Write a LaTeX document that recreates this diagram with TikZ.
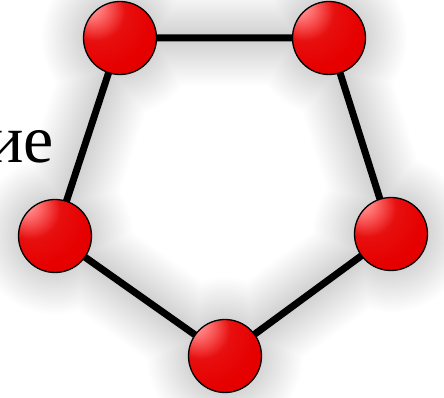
\documentclass[tikz,border=0pt]{standalone}
\usepackage{fontspec}
\setmainfont{Liberation Serif}
\definecolor{ballred}{RGB}{230,0,0}
\pgfdeclareradialshading{glossyball}{\pgfpoint{-22bp}{24bp}}{%
  color(0bp)=(red!30!white);
  color(8bp)=(red!55!white);
  color(20bp)=(ballred!94!white);
  color(34bp)=(ballred);
  color(60bp)=(ballred!97!black);
  color(80bp)=(ballred!94!black)}
\tikzset{
  ball/.style={circle, minimum size=73pt, inner sep=0pt, draw=black, line width=1.3pt, shading=glossyball},
  link/.style={line width=7pt, black}
}
\begin{document}
\begin{tikzpicture}[x=1pt,y=1pt]
\useasboundingbox (0,0) rectangle (444,398);
\clip (0,0) rectangle (444,398);
\fill[white] (0,0) rectangle (444,398);
\coordinate (pa) at (120,360);
\coordinate (pb) at (329,360);
\coordinate (pc) at (391,164);
\coordinate (pd) at (225,42);
\coordinate (pe) at (55,162);
% soft shadow
\foreach \k in {1,...,22}{
  \begin{scope}[transparency group, opacity=0.009, shift={(3,-9)}]
    \draw[line width={7+4*\k}, line join=round, black] (pa) -- (pb) -- (pc) -- (pd) -- (pe) -- cycle;
    \foreach \p in {pa,pb,pc,pd,pe}{\fill[black] (\p) circle ({34+2*\k});}
  \end{scope}
}
\node[anchor=base east, inner sep=0pt, font=\fontsize{68}{70}\selectfont] (txt) at (54,235) {ие};
\draw[link] (pa) -- (pb) -- (pc) -- (pd) -- (pe) -- cycle;
\node[ball] (a) at (pa) {};
\node[ball] (b) at (pb) {};
\node[ball] (c) at (pc) {};
\node[ball] (d) at (pd) {};
\node[ball] (e) at (pe) {};
\end{tikzpicture}
\end{document}
